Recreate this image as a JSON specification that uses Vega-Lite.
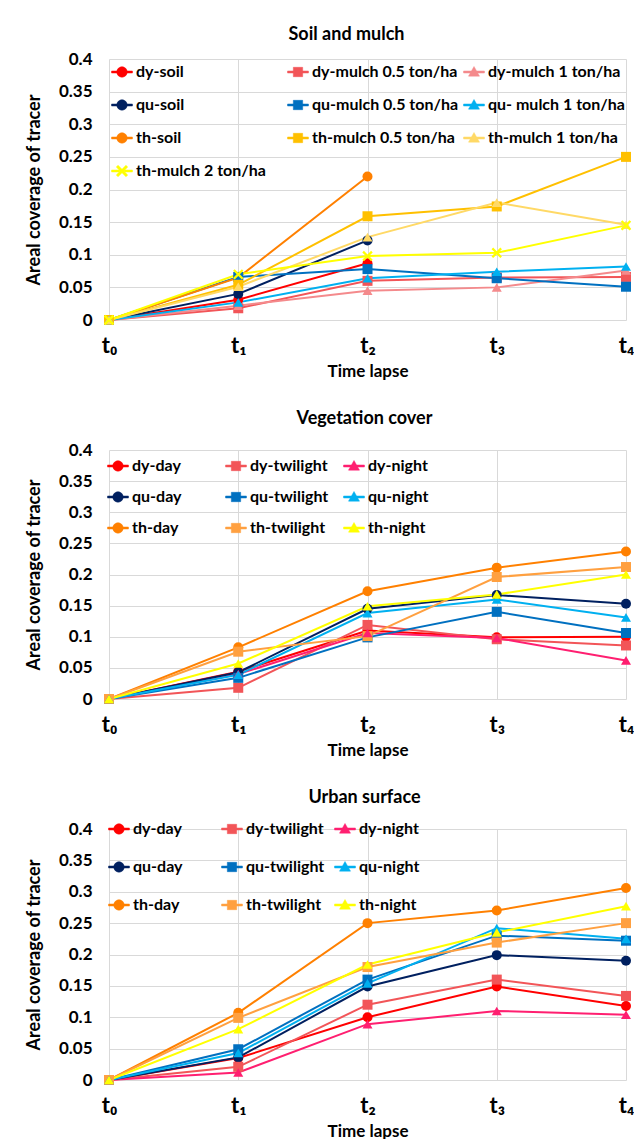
{
  "$schema": "https://vega.github.io/schema/vega-lite/v6.json",
  "background": "white",
  "padding": {"top": 26, "left": 25, "right": 0, "bottom": 0},
  "config": {
    "font": "Lato",
    "view": {"stroke": null},
    "axis": {
      "labelFont": "Lato", "titleFont": "Lato",
      "labelFontWeight": "bold", "titleFontWeight": "bold",
      "labelColor": "#000000", "titleColor": "#000000",
      "gridColor": "#D9D9D9", "gridWidth": 1,
      "domain": false, "ticks": false
    },
    "axisX": {"labelAngle": 0, "labelFontSize": 22, "labelPadding": 15, "titleFontSize": 17, "titlePadding": 7, "grid": true},
    "axisY": {"labelFontSize": 17, "labelPadding": 17, "titleFontSize": 18, "titlePadding": 15},
    "title": {"font": "Lato", "fontWeight": "bold", "fontSize": 18, "color": "#000000"},
    "point": {"filled": true, "opacity": 1, "size": 100},
    "legend": {"labelFont": "Lato", "labelFontWeight": "bold", "labelColor": "#000000", "labelFontSize": 16,
               "title": null, "orient": "none", "padding": 0, "columns": 3, "direction": "horizontal", "gridAlign": "all",
               "symbolSize": 121, "labelOffset": 6}
  },
  "datasets": {
    "soil": [
      {"series": "dy-soil", "time": "t\u2080", "coverage": 0},
      {"series": "dy-soil", "time": "t\u2081", "coverage": 0.031},
      {"series": "dy-soil", "time": "t\u2082", "coverage": 0.087},
      {"series": "dy-mulch 0.5 ton/ha", "time": "t\u2080", "coverage": 0},
      {"series": "dy-mulch 0.5 ton/ha", "time": "t\u2081", "coverage": 0.018},
      {"series": "dy-mulch 0.5 ton/ha", "time": "t\u2082", "coverage": 0.060},
      {"series": "dy-mulch 0.5 ton/ha", "time": "t\u2083", "coverage": 0.065},
      {"series": "dy-mulch 0.5 ton/ha", "time": "t\u2084", "coverage": 0.066},
      {"series": "dy-mulch 1 ton/ha", "time": "t\u2080", "coverage": 0},
      {"series": "dy-mulch 1 ton/ha", "time": "t\u2081", "coverage": 0.022},
      {"series": "dy-mulch 1 ton/ha", "time": "t\u2082", "coverage": 0.045},
      {"series": "dy-mulch 1 ton/ha", "time": "t\u2083", "coverage": 0.050},
      {"series": "dy-mulch 1 ton/ha", "time": "t\u2084", "coverage": 0.076},
      {"series": "qu-soil", "time": "t\u2080", "coverage": 0},
      {"series": "qu-soil", "time": "t\u2081", "coverage": 0.040},
      {"series": "qu-soil", "time": "t\u2082", "coverage": 0.122},
      {"series": "qu-mulch 0.5 ton/ha", "time": "t\u2080", "coverage": 0},
      {"series": "qu-mulch 0.5 ton/ha", "time": "t\u2081", "coverage": 0.066},
      {"series": "qu-mulch 0.5 ton/ha", "time": "t\u2082", "coverage": 0.078},
      {"series": "qu-mulch 0.5 ton/ha", "time": "t\u2083", "coverage": 0.064},
      {"series": "qu-mulch 0.5 ton/ha", "time": "t\u2084", "coverage": 0.051},
      {"series": "qu- mulch 1 ton/ha", "time": "t\u2080", "coverage": 0},
      {"series": "qu- mulch 1 ton/ha", "time": "t\u2081", "coverage": 0.027},
      {"series": "qu- mulch 1 ton/ha", "time": "t\u2082", "coverage": 0.064},
      {"series": "qu- mulch 1 ton/ha", "time": "t\u2083", "coverage": 0.074},
      {"series": "qu- mulch 1 ton/ha", "time": "t\u2084", "coverage": 0.082},
      {"series": "th-soil", "time": "t\u2080", "coverage": 0},
      {"series": "th-soil", "time": "t\u2081", "coverage": 0.065},
      {"series": "th-soil", "time": "t\u2082", "coverage": 0.220},
      {"series": "th-mulch 0.5 ton/ha", "time": "t\u2080", "coverage": 0},
      {"series": "th-mulch 0.5 ton/ha", "time": "t\u2081", "coverage": 0.054},
      {"series": "th-mulch 0.5 ton/ha", "time": "t\u2082", "coverage": 0.159},
      {"series": "th-mulch 0.5 ton/ha", "time": "t\u2083", "coverage": 0.174},
      {"series": "th-mulch 0.5 ton/ha", "time": "t\u2084", "coverage": 0.250},
      {"series": "th-mulch 1 ton/ha", "time": "t\u2080", "coverage": 0},
      {"series": "th-mulch 1 ton/ha", "time": "t\u2081", "coverage": 0.051},
      {"series": "th-mulch 1 ton/ha", "time": "t\u2082", "coverage": 0.127},
      {"series": "th-mulch 1 ton/ha", "time": "t\u2083", "coverage": 0.180},
      {"series": "th-mulch 1 ton/ha", "time": "t\u2084", "coverage": 0.146},
      {"series": "th-mulch 2 ton/ha", "time": "t\u2080", "coverage": 0},
      {"series": "th-mulch 2 ton/ha", "time": "t\u2081", "coverage": 0.070},
      {"series": "th-mulch 2 ton/ha", "time": "t\u2082", "coverage": 0.098},
      {"series": "th-mulch 2 ton/ha", "time": "t\u2083", "coverage": 0.103},
      {"series": "th-mulch 2 ton/ha", "time": "t\u2084", "coverage": 0.145}
    ],
    "veg": [
      {"series": "dy-day", "time": "t\u2080", "coverage": 0},
      {"series": "dy-day", "time": "t\u2081", "coverage": 0.044},
      {"series": "dy-day", "time": "t\u2082", "coverage": 0.110},
      {"series": "dy-day", "time": "t\u2083", "coverage": 0.099},
      {"series": "dy-day", "time": "t\u2084", "coverage": 0.100},
      {"series": "dy-twilight", "time": "t\u2080", "coverage": 0},
      {"series": "dy-twilight", "time": "t\u2081", "coverage": 0.018},
      {"series": "dy-twilight", "time": "t\u2082", "coverage": 0.119},
      {"series": "dy-twilight", "time": "t\u2083", "coverage": 0.096},
      {"series": "dy-twilight", "time": "t\u2084", "coverage": 0.086},
      {"series": "dy-night", "time": "t\u2080", "coverage": 0},
      {"series": "dy-night", "time": "t\u2081", "coverage": 0.040},
      {"series": "dy-night", "time": "t\u2082", "coverage": 0.106},
      {"series": "dy-night", "time": "t\u2083", "coverage": 0.098},
      {"series": "dy-night", "time": "t\u2084", "coverage": 0.062},
      {"series": "qu-day", "time": "t\u2080", "coverage": 0},
      {"series": "qu-day", "time": "t\u2081", "coverage": 0.043},
      {"series": "qu-day", "time": "t\u2082", "coverage": 0.145},
      {"series": "qu-day", "time": "t\u2083", "coverage": 0.167},
      {"series": "qu-day", "time": "t\u2084", "coverage": 0.153},
      {"series": "qu-twilight", "time": "t\u2080", "coverage": 0},
      {"series": "qu-twilight", "time": "t\u2081", "coverage": 0.034},
      {"series": "qu-twilight", "time": "t\u2082", "coverage": 0.099},
      {"series": "qu-twilight", "time": "t\u2083", "coverage": 0.140},
      {"series": "qu-twilight", "time": "t\u2084", "coverage": 0.106},
      {"series": "qu-night", "time": "t\u2080", "coverage": 0},
      {"series": "qu-night", "time": "t\u2081", "coverage": 0.039},
      {"series": "qu-night", "time": "t\u2082", "coverage": 0.138},
      {"series": "qu-night", "time": "t\u2083", "coverage": 0.160},
      {"series": "qu-night", "time": "t\u2084", "coverage": 0.131},
      {"series": "th-day", "time": "t\u2080", "coverage": 0},
      {"series": "th-day", "time": "t\u2081", "coverage": 0.083},
      {"series": "th-day", "time": "t\u2082", "coverage": 0.173},
      {"series": "th-day", "time": "t\u2083", "coverage": 0.211},
      {"series": "th-day", "time": "t\u2084", "coverage": 0.237},
      {"series": "th-twilight", "time": "t\u2080", "coverage": 0},
      {"series": "th-twilight", "time": "t\u2081", "coverage": 0.076},
      {"series": "th-twilight", "time": "t\u2082", "coverage": 0.101},
      {"series": "th-twilight", "time": "t\u2083", "coverage": 0.196},
      {"series": "th-twilight", "time": "t\u2084", "coverage": 0.212},
      {"series": "th-night", "time": "t\u2080", "coverage": 0},
      {"series": "th-night", "time": "t\u2081", "coverage": 0.057},
      {"series": "th-night", "time": "t\u2082", "coverage": 0.149},
      {"series": "th-night", "time": "t\u2083", "coverage": 0.168},
      {"series": "th-night", "time": "t\u2084", "coverage": 0.200}
    ],
    "urban": [
      {"series": "dy-day", "time": "t\u2080", "coverage": 0},
      {"series": "dy-day", "time": "t\u2081", "coverage": 0.035},
      {"series": "dy-day", "time": "t\u2082", "coverage": 0.100},
      {"series": "dy-day", "time": "t\u2083", "coverage": 0.149},
      {"series": "dy-day", "time": "t\u2084", "coverage": 0.118},
      {"series": "dy-twilight", "time": "t\u2080", "coverage": 0},
      {"series": "dy-twilight", "time": "t\u2081", "coverage": 0.021},
      {"series": "dy-twilight", "time": "t\u2082", "coverage": 0.120},
      {"series": "dy-twilight", "time": "t\u2083", "coverage": 0.160},
      {"series": "dy-twilight", "time": "t\u2084", "coverage": 0.134},
      {"series": "dy-night", "time": "t\u2080", "coverage": 0},
      {"series": "dy-night", "time": "t\u2081", "coverage": 0.012},
      {"series": "dy-night", "time": "t\u2082", "coverage": 0.089},
      {"series": "dy-night", "time": "t\u2083", "coverage": 0.110},
      {"series": "dy-night", "time": "t\u2084", "coverage": 0.104},
      {"series": "qu-day", "time": "t\u2080", "coverage": 0},
      {"series": "qu-day", "time": "t\u2081", "coverage": 0.036},
      {"series": "qu-day", "time": "t\u2082", "coverage": 0.149},
      {"series": "qu-day", "time": "t\u2083", "coverage": 0.199},
      {"series": "qu-day", "time": "t\u2084", "coverage": 0.190},
      {"series": "qu-twilight", "time": "t\u2080", "coverage": 0},
      {"series": "qu-twilight", "time": "t\u2081", "coverage": 0.049},
      {"series": "qu-twilight", "time": "t\u2082", "coverage": 0.160},
      {"series": "qu-twilight", "time": "t\u2083", "coverage": 0.230},
      {"series": "qu-twilight", "time": "t\u2084", "coverage": 0.222},
      {"series": "qu-night", "time": "t\u2080", "coverage": 0},
      {"series": "qu-night", "time": "t\u2081", "coverage": 0.043},
      {"series": "qu-night", "time": "t\u2082", "coverage": 0.154},
      {"series": "qu-night", "time": "t\u2083", "coverage": 0.242},
      {"series": "qu-night", "time": "t\u2084", "coverage": 0.225},
      {"series": "th-day", "time": "t\u2080", "coverage": 0},
      {"series": "th-day", "time": "t\u2081", "coverage": 0.107},
      {"series": "th-day", "time": "t\u2082", "coverage": 0.250},
      {"series": "th-day", "time": "t\u2083", "coverage": 0.270},
      {"series": "th-day", "time": "t\u2084", "coverage": 0.306},
      {"series": "th-twilight", "time": "t\u2080", "coverage": 0},
      {"series": "th-twilight", "time": "t\u2081", "coverage": 0.099},
      {"series": "th-twilight", "time": "t\u2082", "coverage": 0.180},
      {"series": "th-twilight", "time": "t\u2083", "coverage": 0.219},
      {"series": "th-twilight", "time": "t\u2084", "coverage": 0.250},
      {"series": "th-night", "time": "t\u2080", "coverage": 0},
      {"series": "th-night", "time": "t\u2081", "coverage": 0.081},
      {"series": "th-night", "time": "t\u2082", "coverage": 0.184},
      {"series": "th-night", "time": "t\u2083", "coverage": 0.235},
      {"series": "th-night", "time": "t\u2084", "coverage": 0.277}
    ]
  },
  "spacing": 31,
  "resolve": {"scale": {"color": "independent"}, "legend": {"color": "independent"}},
  "vconcat": [
    {
      "name": "p1",
      "width": 517, "height": 261,
      "title": {"text": "Soil and mulch", "frame": "group", "offset": 6, "dx": -21},
      "data": {"name": "soil"},
      "encoding": {
        "x": {"field": "time", "type": "ordinal", "scale": {"type": "point", "padding": 0}, "axis": {"title": "Time lapse"}},
        "y": {"field": "coverage", "type": "quantitative", "scale": {"domain": [0, 0.4]},
              "axis": {"title": "Areal coverage of tracer", "values": [0, 0.05, 0.1, 0.15, 0.2, 0.25, 0.3, 0.35, 0.4], "format": "~g"}},
        "color": {"field": "series", "type": "nominal",
          "scale": {"domain": ["dy-soil", "dy-mulch 0.5 ton/ha", "dy-mulch 1 ton/ha", "qu-soil", "qu-mulch 0.5 ton/ha", "qu- mulch 1 ton/ha", "th-soil", "th-mulch 0.5 ton/ha", "th-mulch 1 ton/ha", "th-mulch 2 ton/ha"],
                    "range": ["#FF0000", "#F25558", "#F48A8C", "#002060", "#0070C0", "#00B0F0", "#FF8000", "#FFC000", "#FFD966", "#FFFF00"]},
          "legend": {"legendX": 5, "legendY": 5, "columnPadding": 3, "rowPadding": 17,
            "encode": {"symbols": {"update": {
              "shape": {"signal": "indexof(datum.value,'2 ton')>=0 ? 'M-1.9,-0.18L-0.45,-0.18L-0.45,0.18L-1.9,0.18Z M0.45,-0.18L1.9,-0.18L1.9,0.18L0.45,0.18Z M0,-0.32L0.72,-1.04L1.04,-0.72L0.32,0L1.04,0.72L0.72,1.04L0,0.32L-0.72,1.04L-1.04,0.72L-0.32,0L-1.04,-0.72L-0.72,-1.04Z' : (indexof(datum.value,'soil')>=0 || indexof(datum.value,'day')>=0) ? 'M-1.9,-0.18L-0.45,-0.18L-0.45,0.18L-1.9,0.18Z M0.45,-0.18L1.9,-0.18L1.9,0.18L0.45,0.18Z M0.95,0A0.95,0.95 0 1,1 -0.95,0A0.95,0.95 0 1,1 0.95,0Z' : (indexof(datum.value,'0.5')>=0 || indexof(datum.value,'twilight')>=0) ? 'M-1.9,-0.18L-0.45,-0.18L-0.45,0.18L-1.9,0.18Z M0.45,-0.18L1.9,-0.18L1.9,0.18L0.45,0.18Z M-0.85,-0.85L0.85,-0.85L0.85,0.85L-0.85,0.85Z' : 'M-1.9,-0.18L-0.45,-0.18L-0.45,0.18L-1.9,0.18Z M0.45,-0.18L1.9,-0.18L1.9,0.18L0.45,0.18Z M0,-1L1,0.75L-1,0.75Z'"},
              "strokeWidth": {"value": 0.5},
              "opacity": {"value": 1}
            }}}}
        }
      },
      "layer": [
        {"mark": {"type": "line", "strokeWidth": 2}},
        {"transform": [{"filter": "indexof(datum.series,'soil')>=0"}], "mark": {"type": "point", "shape": "circle"}},
        {"transform": [{"filter": "indexof(datum.series,'0.5')>=0"}], "mark": {"type": "point", "shape": "square"}},
        {"transform": [{"filter": "indexof(datum.series,'1 ton')>=0"}], "mark": {"type": "point", "shape": "triangle-up"}},
        {"transform": [{"filter": "indexof(datum.series,'2 ton')>=0"}], "mark": {"type": "point", "shape": "M0,-0.32L0.72,-1.04L1.04,-0.72L0.32,0L1.04,0.72L0.72,1.04L0,0.32L-0.72,1.04L-1.04,0.72L-0.32,0L-1.04,-0.72L-0.72,-1.04Z"}}
      ]
    },
    {
      "name": "p2",
      "width": 517, "height": 249,
      "title": {"text": "Vegetation cover", "frame": "group", "offset": 13, "dx": -3},
      "data": {"name": "veg"},
      "encoding": {
        "x": {"field": "time", "type": "ordinal", "scale": {"type": "point", "padding": 0}, "axis": {"title": "Time lapse"}},
        "y": {"field": "coverage", "type": "quantitative", "scale": {"domain": [0, 0.4]},
              "axis": {"title": "Areal coverage of tracer", "values": [0, 0.05, 0.1, 0.15, 0.2, 0.25, 0.3, 0.35, 0.4], "format": "~g"}},
        "color": {"field": "series", "type": "nominal",
          "scale": {"domain": ["dy-day", "dy-twilight", "dy-night", "qu-day", "qu-twilight", "qu-night", "th-day", "th-twilight", "th-night"],
                    "range": ["#FF0000", "#F25558", "#FF1F70", "#002060", "#0070C0", "#00B0F0", "#FF8000", "#FFA040", "#FFFF00"]},
          "legend": {"legendX": 1, "legendY": 8, "columnPadding": 13, "rowPadding": 15,
            "encode": {"symbols": {"update": {
              "shape": {"signal": "indexof(datum.value,'day')>=0 ? 'M-1.9,-0.18L-0.45,-0.18L-0.45,0.18L-1.9,0.18Z M0.45,-0.18L1.9,-0.18L1.9,0.18L0.45,0.18Z M0.95,0A0.95,0.95 0 1,1 -0.95,0A0.95,0.95 0 1,1 0.95,0Z' : indexof(datum.value,'twilight')>=0 ? 'M-1.9,-0.18L-0.45,-0.18L-0.45,0.18L-1.9,0.18Z M0.45,-0.18L1.9,-0.18L1.9,0.18L0.45,0.18Z M-0.85,-0.85L0.85,-0.85L0.85,0.85L-0.85,0.85Z' : 'M-1.9,-0.18L-0.45,-0.18L-0.45,0.18L-1.9,0.18Z M0.45,-0.18L1.9,-0.18L1.9,0.18L0.45,0.18Z M0,-1L1,0.75L-1,0.75Z'"},
              "strokeWidth": {"value": 0.5},
              "opacity": {"value": 1}
            }}}}
        }
      },
      "layer": [
        {"mark": {"type": "line", "strokeWidth": 2}},
        {"transform": [{"filter": "indexof(datum.series,'day')>=0"}], "mark": {"type": "point", "shape": "circle"}},
        {"transform": [{"filter": "indexof(datum.series,'twilight')>=0"}], "mark": {"type": "point", "shape": "square"}},
        {"transform": [{"filter": "indexof(datum.series,'night')>=0"}], "mark": {"type": "point", "shape": "triangle-up"}}
      ]
    },
    {
      "name": "p3",
      "width": 517, "height": 251,
      "title": {"text": "Urban surface", "frame": "group", "offset": 13, "dx": -3},
      "data": {"name": "urban"},
      "encoding": {
        "x": {"field": "time", "type": "ordinal", "scale": {"type": "point", "padding": 0}, "axis": {"title": "Time lapse"}},
        "y": {"field": "coverage", "type": "quantitative", "scale": {"domain": [0, 0.4]},
              "axis": {"title": "Areal coverage of tracer", "values": [0, 0.05, 0.1, 0.15, 0.2, 0.25, 0.3, 0.35, 0.4], "format": "~g"}},
        "color": {"field": "series", "type": "nominal",
          "scale": {"domain": ["dy-day", "dy-twilight", "dy-night", "qu-day", "qu-twilight", "qu-night", "th-day", "th-twilight", "th-night"],
                    "range": ["#FF0000", "#F25558", "#FF1F70", "#002060", "#0070C0", "#00B0F0", "#FF8000", "#FFA040", "#FFFF00"]},
          "legend": {"legendX": 2, "legendY": -8, "columnPadding": 8, "rowPadding": 22,
            "encode": {"symbols": {"update": {
              "shape": {"signal": "indexof(datum.value,'day')>=0 ? 'M-1.9,-0.18L-0.45,-0.18L-0.45,0.18L-1.9,0.18Z M0.45,-0.18L1.9,-0.18L1.9,0.18L0.45,0.18Z M0.95,0A0.95,0.95 0 1,1 -0.95,0A0.95,0.95 0 1,1 0.95,0Z' : indexof(datum.value,'twilight')>=0 ? 'M-1.9,-0.18L-0.45,-0.18L-0.45,0.18L-1.9,0.18Z M0.45,-0.18L1.9,-0.18L1.9,0.18L0.45,0.18Z M-0.85,-0.85L0.85,-0.85L0.85,0.85L-0.85,0.85Z' : 'M-1.9,-0.18L-0.45,-0.18L-0.45,0.18L-1.9,0.18Z M0.45,-0.18L1.9,-0.18L1.9,0.18L0.45,0.18Z M0,-1L1,0.75L-1,0.75Z'"},
              "strokeWidth": {"value": 0.5},
              "opacity": {"value": 1}
            }}}}
        }
      },
      "layer": [
        {"mark": {"type": "line", "strokeWidth": 2}},
        {"transform": [{"filter": "indexof(datum.series,'day')>=0"}], "mark": {"type": "point", "shape": "circle"}},
        {"transform": [{"filter": "indexof(datum.series,'twilight')>=0"}], "mark": {"type": "point", "shape": "square"}},
        {"transform": [{"filter": "indexof(datum.series,'night')>=0"}], "mark": {"type": "point", "shape": "triangle-up"}}
      ]
    }
  ]
}
